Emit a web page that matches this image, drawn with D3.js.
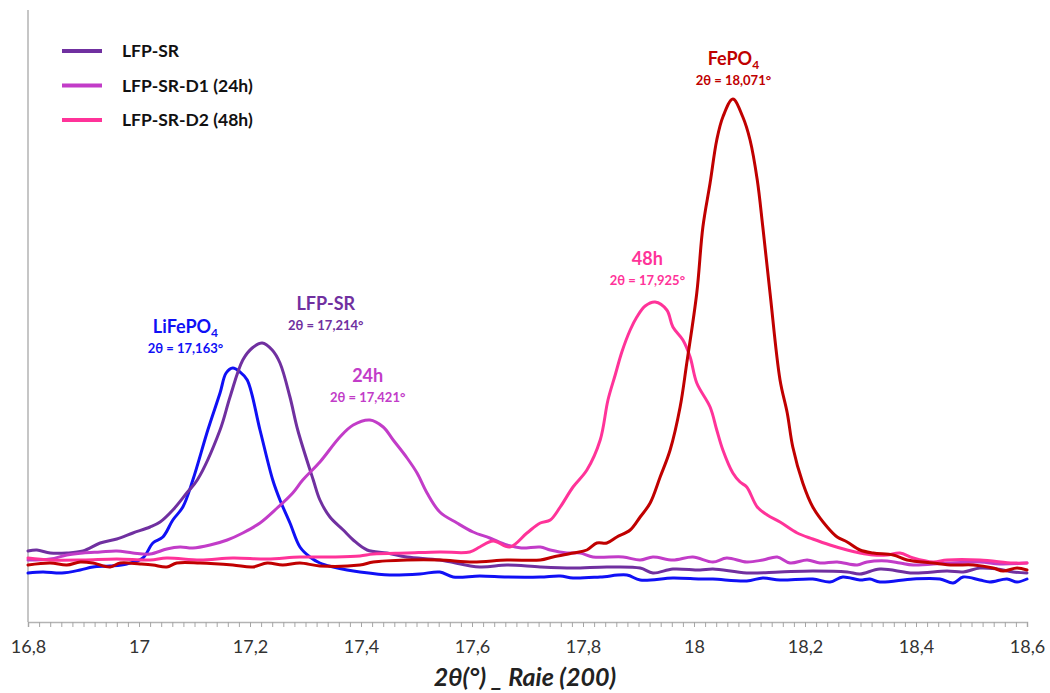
<!DOCTYPE html>
<html>
<head>
<meta charset="utf-8">
<script src="https://cdn.jsdelivr.net/npm/d3@7"></script>
<style>
  html, body { margin: 0; padding: 0; background: #ffffff; }
  svg { display: block; font-family: Lato, "Open Sans", "Liberation Sans", sans-serif; }
</style>
</head>
<body>
<svg id="chart" width="1050" height="693"></svg>
<script>
// ---------------- DATA (2θ in degrees, intensity in arbitrary units) ----------------
const seriesNames = ["LiFePO4", "LFP-SR", "LFP-SR-D1 (24h)", "LFP-SR-D2 (48h)", "FePO4"];
const legendLabels = ["LFP-SR", "LFP-SR-D1 (24h)", "LFP-SR-D2 (48h)"];
const tickValuesMajor = [16.8, 17.0, 17.2, 17.4, 17.6, 17.8, 18.0, 18.2, 18.4, 18.6];
const tickLabels = ["16,8", "17", "17,2", "17,4", "17,6", "17,8", "18", "18,2", "18,4", "18,6"];

const dataLiFePO4 = [
  [16.800,49],[16.827,50],[16.861,49],[16.894,52],[16.917,55],[16.948,56],[16.978,58],[17.007,64],
  [17.025,79],[17.043,85],[17.061,102],[17.079,115],[17.097,142],[17.124,192],[17.146,229],[17.157,249],
  [17.169,254],[17.182,250],[17.195,242],[17.218,192],[17.241,142],[17.254,122],[17.272,99],[17.290,75],
  [17.308,65],[17.326,59],[17.350,55],[17.375,52],[17.398,50],[17.452,47],[17.506,48],[17.542,50],
  [17.566,45],[17.614,46],[17.663,45],[17.723,45],[17.759,46],[17.782,44],[17.831,45],[17.879,47],
  [17.903,42],[17.962,44],[18.011,43],[18.034,43],[18.095,41],[18.124,44],[18.155,42],[18.214,43],
  [18.245,40],[18.268,45],[18.299,42],[18.317,43],[18.335,40],[18.395,43],[18.443,43],[18.467,39],
  [18.485,45],[18.515,42],[18.533,40],[18.564,43],[18.582,40],[18.600,43]
];

const dataLFPSR = [
  [16.800,71],[16.816,72],[16.840,69],[16.870,69],[16.899,71],[16.930,79],[16.960,83],[16.989,89],
  [17.020,95],[17.038,100],[17.061,112],[17.086,129],[17.105,142],[17.146,192],[17.164,225],[17.187,262],
  [17.204,274],[17.222,279],[17.240,272],[17.254,259],[17.272,225],[17.286,192],[17.314,142],[17.326,122],
  [17.344,105],[17.368,92],[17.386,82],[17.411,72],[17.447,69],[17.483,65],[17.542,62],[17.614,55],
  [17.663,57],[17.723,55],[17.782,54],[17.843,55],[17.903,54],[17.926,49],[17.962,53],[18.011,52],
  [18.034,53],[18.095,49],[18.155,50],[18.214,51],[18.276,50],[18.299,48],[18.335,53],[18.395,49],
  [18.456,51],[18.485,50],[18.515,54],[18.546,53],[18.575,50],[18.600,49]
];

const dataD1 = [
  [16.800,62],[16.840,63],[16.870,67],[16.899,69],[16.930,70],[16.960,71],[16.989,69],[17.020,68],
  [17.050,73],[17.074,75],[17.097,74],[17.128,77],[17.159,82],[17.187,89],[17.218,99],[17.249,114],
  [17.277,129],[17.295,142],[17.326,160],[17.362,185],[17.386,197],[17.416,202],[17.440,195],[17.458,182],
  [17.483,164],[17.501,149],[17.519,129],[17.542,110],[17.573,99],[17.602,90],[17.632,84],[17.663,77],
  [17.689,74],[17.723,75],[17.741,72],[17.771,69],[17.795,69],[17.818,65],[17.872,65],[17.903,62],
  [17.926,65],[17.962,62],[17.998,65],[18.034,60],[18.059,64],[18.095,60],[18.124,62],[18.150,65],
  [18.173,59],[18.204,62],[18.227,59],[18.258,60],[18.294,57],[18.312,60],[18.348,61],[18.371,59],
  [18.395,57],[18.456,59],[18.515,60],[18.551,58],[18.600,59]
];

const dataD2 = [
  [16.800,64],[16.840,62],[16.899,62],[16.960,63],[17.020,62],[17.050,64],[17.110,62],[17.169,64],
  [17.231,63],[17.290,65],[17.350,65],[17.398,66],[17.422,68],[17.483,69],[17.542,70],[17.596,70],
  [17.614,75],[17.638,81],[17.668,75],[17.699,89],[17.723,99],[17.741,102],[17.759,115],[17.782,135],
  [17.807,152],[17.831,182],[17.845,222],[17.858,247],[17.870,270],[17.885,292],[17.897,305],[17.912,316],
  [17.930,320],[17.951,312],[17.962,295],[17.980,282],[17.993,265],[18.005,239],[18.029,215],[18.041,192],
  [18.052,172],[18.070,149],[18.083,140],[18.095,135],[18.114,115],[18.132,107],[18.155,100],[18.186,89],
  [18.214,83],[18.245,77],[18.276,72],[18.299,69],[18.323,67],[18.348,67],[18.371,69],[18.395,64],
  [18.431,60],[18.456,62],[18.515,62],[18.575,59],[18.600,59]
];

const dataFePO4 = [
  [16.800,57],[16.840,59],[16.870,57],[16.894,60],[16.917,59],[16.948,55],[16.966,59],[17.002,58],
  [17.025,57],[17.050,55],[17.068,59],[17.110,59],[17.169,57],[17.205,55],[17.231,59],[17.259,57],
  [17.290,59],[17.326,56],[17.398,57],[17.422,60],[17.483,62],[17.542,62],[17.602,60],[17.663,62],
  [17.723,62],[17.746,65],[17.782,69],[17.807,72],[17.825,79],[17.843,79],[17.861,85],[17.885,92],
  [17.903,105],[17.921,119],[17.939,145],[17.957,172],[17.975,215],[17.987,259],[18.005,329],[18.016,395],
  [18.029,439],[18.041,482],[18.052,505],[18.070,523],[18.088,505],[18.101,482],[18.114,442],[18.124,395],
  [18.137,329],[18.155,242],[18.168,209],[18.178,175],[18.196,139],[18.214,115],[18.240,95],[18.258,85],
  [18.276,80],[18.299,72],[18.323,69],[18.359,67],[18.384,62],[18.431,59],[18.467,57],[18.503,57],
  [18.539,54],[18.557,51],[18.582,54],[18.600,52]
];

const seriesData = [dataLiFePO4, dataLFPSR, dataD1, dataD2, dataFePO4];
const seriesColors = ["#1010F5", "#7030A0", "#C23CC8", "#FF3399", "#C00000"];
const legendColors = ["#7030A0", "#C23CC8", "#FF3399"];

// peak annotations
const annoTitles = ["LiFePO", "LFP-SR", "24h", "48h", "FePO"];
const annoSubs = ["4", "", "", "", "4"];
const annoValues = ["2θ = 17,163°", "2θ = 17,214°", "2θ = 17,421°", "2θ = 17,925°", "2θ = 18,071°"];
const annoTheta = [17.163, 17.214, 17.421, 17.925, 18.071];
const annoIntensity = [289, 312, 240, 357, 557];

// ---------------- LAYOUT ----------------
const svg = d3.select("#chart");
const plotLeft = 28, plotRight = 1027, plotTop = 10, plotBottom = 622;

const x = d3.scaleLinear().domain([16.8, 18.6]).range([plotLeft, plotRight]);
const y = d3.scaleLinear().domain([0, 612]).range([plotBottom, plotTop]);

svg.append("rect").attr("width", 1050).attr("height", 693).attr("fill", "#fff");

// left axis line
svg.append("line")
  .attr("x1", plotLeft).attr("x2", plotLeft).attr("y1", plotTop).attr("y2", plotBottom)
  .attr("stroke", "#B3B3B3").attr("stroke-width", 1.5);

// minor ticks every 0.02
const minorTicks = d3.range(0, 91).map(i => +(16.8 + i * 0.02).toFixed(2));
const minorAxis = d3.axisBottom(x).tickValues(minorTicks).tickSize(5).tickFormat("");
const gMinor = svg.append("g").attr("transform", `translate(0,${plotBottom})`).call(minorAxis);
gMinor.selectAll("line").attr("stroke", "#A6A6A6").attr("stroke-width", 1);
gMinor.select(".domain").attr("stroke", "#B3B3B3").attr("stroke-width", 1.5);

// major labels
const majorAxis = d3.axisBottom(x).tickValues(tickValuesMajor).tickSize(0)
  .tickFormat((d, i) => tickLabels[i]);
const gMajor = svg.append("g").attr("transform", `translate(0,${plotBottom})`).call(majorAxis);
gMajor.select(".domain").remove();
gMajor.selectAll("text")
  .attr("y", 31).attr("dy", 0)
  .attr("font-family", "Lato, 'Open Sans', sans-serif")
  .attr("font-size", 18).attr("fill", "#333");

// axis title
svg.append("text")
  .attr("x", 525).attr("y", 686).attr("text-anchor", "middle")
  .attr("font-size", 25).attr("font-weight", "bold").attr("font-style", "italic")
  .attr("fill", "#222")
  .text("2θ(°) _ Raie (200)");

// lines
const line = d3.line().x(d => x(d[0])).y(d => y(d[1])).curve(d3.curveCatmullRom.alpha(0.5));
seriesData.forEach((data, i) => {
  svg.append("path")
    .datum(data)
    .attr("d", line)
    .attr("fill", "none")
    .attr("stroke", seriesColors[i])
    .attr("stroke-width", 3)
    .attr("stroke-linejoin", "round")
    .attr("stroke-linecap", "round");
});

// legend
legendLabels.forEach((lab, i) => {
  const ly = 51 + i * 34.5;
  svg.append("line")
    .attr("x1", 62).attr("x2", 102).attr("y1", ly).attr("y2", ly)
    .attr("stroke", legendColors[i]).attr("stroke-width", 4);
  svg.append("text")
    .attr("x", 122).attr("y", ly + 6)
    .attr("font-size", 17.5).attr("font-weight", "bold").attr("fill", "#111")
    .text(lab);
});

// peak annotations
const annoDx = [-44, 68, -5, -5, 0];
annoTitles.forEach((t, i) => {
  const col = seriesColors[i];
  const cx = x(annoTheta[i]) + annoDx[i];
  const base = y(annoIntensity[i]);
  const t1 = svg.append("text")
    .attr("x", cx).attr("y", base).attr("text-anchor", "middle")
    .attr("font-size", 18).attr("font-weight", "bold").attr("fill", col);
  t1.append("tspan").text(t);
  if (annoSubs[i]) {
    t1.append("tspan").attr("font-size", 12).attr("dy", 4).text(annoSubs[i]);
  }
  svg.append("text")
    .attr("x", cx).attr("y", base + 20).attr("text-anchor", "middle")
    .attr("font-size", 13).attr("font-weight", "bold").attr("fill", col)
    .text(annoValues[i]);
});
</script>
</body>
</html>
